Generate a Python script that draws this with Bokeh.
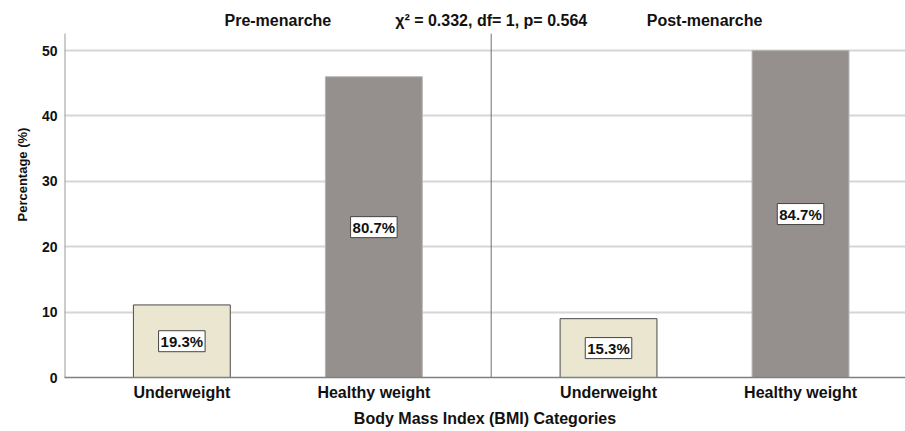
import math
from bokeh.plotting import figure
from bokeh.models import Range1d, FixedTicker, Label, Title, ColumnDataSource
from bokeh.embed import file_html
from bokeh.resources import INLINE

# ---- data ----
groups = ["Pre-menarche", "Post-menarche"]
categories = ["Underweight", "Healthy weight"]
pre_values = [11.1, 46.0]
post_values = [9.0, 50.0]
pre_labels = ["19.3%", "80.7%"]
post_labels = ["15.3%", "84.7%"]
y_ticks = [0, 10, 20, 30, 40, 50]
stat_text = "χ² = 0.332, df= 1, p= 0.564"
x_title = "Body Mass Index (BMI) Categories"
y_title = "Percentage (%)"
bar_fill = ["#EAE6D0", "#95908E"]
bar_line = ["#4a4a4a", "#b5b2b0"]

FONT = "Liberation Sans"
TXT = "#111111"
AXIS_TOP = 52.6      # top end of the drawn y-axis line / divider
TEXT_ROW = 54.6      # level of the panel titles

offsets = [0.275, 0.725]
xs, tops, mids, labs, fills, lines = [], [], [], [], [], []
for gi, (vals, lbls) in enumerate(zip([pre_values, post_values], [pre_labels, post_labels])):
    for ci, cat in enumerate(categories):
        xs.append(gi + offsets[ci])
        tops.append(vals[ci])
        mids.append(vals[ci] / 2)
        labs.append(lbls[ci])
        fills.append(bar_fill[ci])
        lines.append(bar_line[ci])

src = ColumnDataSource(dict(x=xs, top=tops, mid=mids, label=labs, fill=fills, line=lines))

p = figure(width=905, height=431, x_range=Range1d(0, 1.971), y_range=Range1d(0, 56.9),
           output_backend="svg", toolbar_location=None,
           min_border_left=64, min_border_right=0, min_border_top=5, min_border_bottom=52)
p.outline_line_color = None
p.background_fill_color = "white"

# grid
p.xgrid.visible = False
p.ygrid.ticker = y_ticks
p.ygrid.grid_line_color = "#D6D6D6"
p.ygrid.grid_line_width = 2

p.vbar(x="x", top="top", width=0.227, source=src, fill_color="fill", line_color="line", line_width=1)

# y axis (line drawn separately so it stops just above 50)
p.yaxis.ticker = y_ticks
p.yaxis.axis_line_color = None
p.yaxis.major_tick_line_color = None
p.yaxis.major_tick_out = 0
p.yaxis.major_tick_in = 0
p.yaxis.minor_tick_line_color = None
p.yaxis.minor_tick_out = 0
p.yaxis.major_label_standoff = 7
p.yaxis.major_label_text_font = FONT
p.yaxis.major_label_text_font_style = "bold"
p.yaxis.major_label_text_font_size = "14px"
p.yaxis.major_label_text_color = TXT
p.segment(x0=[0], y0=[0], x1=[0], y1=[AXIS_TOP], line_color="#9a9a9a", line_width=2)

# x axis
p.xaxis.ticker = FixedTicker(ticks=xs)
p.xaxis.major_label_overrides = {x: categories[i % 2] for i, x in enumerate(xs)}
p.xaxis.axis_line_color = "#808080"
p.xaxis.axis_line_width = 1.5
p.xaxis.major_tick_line_color = None
p.xaxis.major_tick_out = 0
p.xaxis.major_tick_in = 0
p.xaxis.minor_tick_line_color = None
p.xaxis.minor_tick_out = 0
p.xaxis.major_label_standoff = 6
p.xaxis.major_label_text_font = FONT
p.xaxis.major_label_text_font_style = "bold"
p.xaxis.major_label_text_font_size = "16px"
p.xaxis.major_label_text_color = TXT

# divider between panels
p.segment(x0=[1], y0=[0], x1=[1], y1=[AXIS_TOP], line_color="#707070", line_width=1)

# value labels
for x, m, t in zip(xs, mids, labs):
    p.add_layout(Label(x=x, y=m, text=t, text_align="center", text_baseline="middle",
                       text_font=FONT, text_font_style="bold", text_font_size="15px",
                       text_color=TXT, background_fill_color="white",
                       border_line_color="#444444", border_line_width=1, padding=2))

# panel titles and statistic
for gi, g in enumerate(groups):
    p.add_layout(Label(x=gi + 0.5, y=TEXT_ROW, text=g, text_align="center", text_baseline="middle",
                       text_font=FONT, text_font_style="bold", text_font_size="16px", text_color=TXT))
p.add_layout(Label(x=1.0, y=TEXT_ROW, text=stat_text, text_align="center", text_baseline="middle",
                   text_font=FONT, text_font_style="bold", text_font_size="16px", text_color=TXT))

# axis titles
p.add_layout(Title(text=x_title, align="center", offset=14, standoff=9,
                   text_font=FONT, text_font_style="bold", text_font_size="16px",
                   text_color=TXT), "below")
p.add_layout(Title(text=y_title, align="left", offset=156, standoff=18,
                   text_font=FONT, text_font_style="bold", text_font_size="13px",
                   text_color=TXT), "left")

open("out.html", "w").write(file_html(p, INLINE))
